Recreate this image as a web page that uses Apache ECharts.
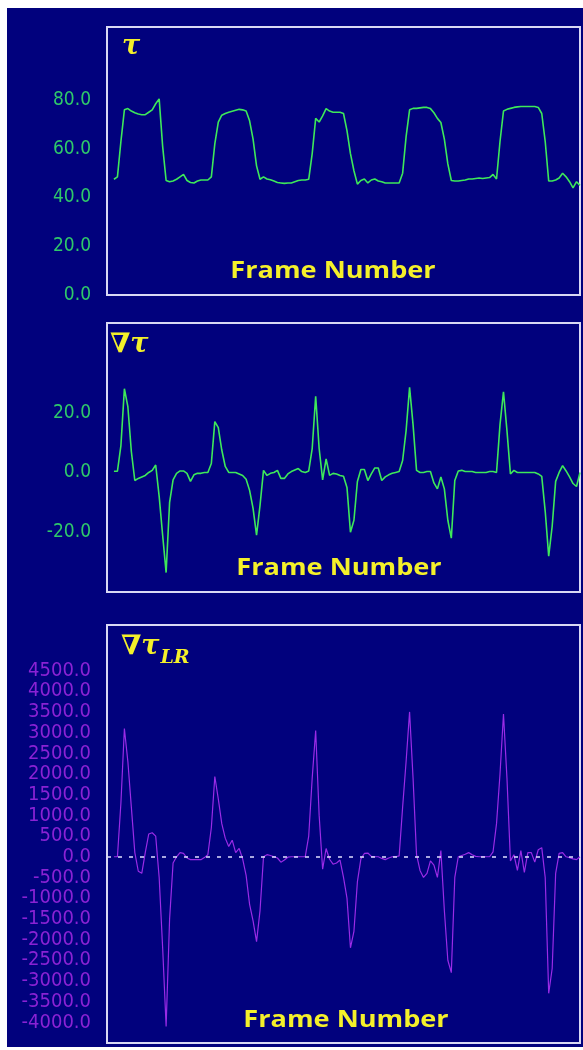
<!DOCTYPE html>
<html>
<head>
<meta charset="utf-8">
<script src="https://cdn.jsdelivr.net/npm/echarts@6/dist/echarts.min.js"></script>
<style>
html,body{margin:0;padding:0;background:#ffffff;width:583px;height:1050px;overflow:hidden;}
#bg{position:absolute;left:7px;top:8px;width:576px;height:1039px;background:#01017d;}
#chart{position:absolute;left:0;top:0;width:583px;height:1050px;}
</style>
</head>
<body>
<div id="bg"></div>
<div id="chart"></div>
<script>
// Frame numbers (x categories)
const frames = Array.from({length: 135}, (_, i) => i);

// tau per frame
const tau = [
  47.5,48.5,63,76,76.5,75.5,74.8,74.3,74,74,
  75,76,78.5,80.5,61,47,46.5,46.8,47.5,48.5,
  49.5,47,46.2,46,46.8,47.2,47.2,47.2,48.5,62,
  71,73.8,74.5,75,75.4,75.8,76.2,76,75.5,71.5,
  64,53,47.5,48.5,47.6,47.3,46.8,46.2,46,45.8,
  46,46,46.5,47,47.2,47.2,47.5,58,72.5,71,
  73.5,76.5,75.5,75,75,75,74.5,67.5,58,51,
  45.5,47,47.6,46,47.2,47.6,46.8,46.5,46,46,
  46,46,46,50,65,76,76.6,76.6,76.8,77,
  77,76.5,74.8,72.5,70.8,64,53.8,47,46.8,46.8,
  47,47.2,47.6,47.6,47.8,48,47.8,48,48.2,49.5,
  47.6,63,75.5,76.2,76.6,77,77.2,77.4,77.4,77.4,
  77.4,77.4,77,74.5,63,46.8,46.8,47.2,48,50,
  48.5,46.5,44,46.5,45
];

// gradient of tau per frame
const gradTau = [
  0.4,0.4,9,28,22,7,-2.7,-2,-1.5,-1,
  0,0.7,2.5,-8,-21,-33.5,-10,-2.5,-0.3,0.5,
  0.5,-0.3,-3,-0.8,-0.3,-0.3,0,0,3,17,
  15,7.5,2,0,0,0,-0.5,-1,-2.3,-6,
  -12,-21,-11,0.7,-1,-0.3,0,0.7,-2,-2,
  -0.5,0.3,0.8,1.3,0.3,0,0.5,8,25.5,8,
  -2.5,4.5,-1,-0.3,-0.5,-1,-1.3,-5,-20,-16,
  -3,1,1,-2.7,-0.5,1.5,1.5,-2.7,-1.5,-0.8,
  -0.3,0,0.3,4,14,28.5,16,0.7,0,0,
  0.3,0.3,-3.5,-5.5,-1.5,-5.5,-16,-22,-2.7,0.5,
  0.7,0.3,0.3,0.3,0,0,0,0,0.3,0.3,
  0,16,27,14,-0.5,0.7,0,0,0,0,
  0,0,-0.5,-1.3,-13,-28,-18,-3,0,2.3,
  0.5,-1.5,-3.7,-4.7,0
];

// LR gradient per frame
const gradTauLR = [
  0,0,1300,3100,2300,1200,100,-350,-400,100,
  550,580,500,-500,-2200,-4100,-1500,-150,0,100,
  80,-30,-70,-70,-70,-70,-20,50,700,1940,
  1400,800,450,250,400,100,200,-50,-450,-1150,
  -1550,-2050,-1300,0,50,30,0,-30,-130,-80,
  -10,0,0,0,0,0,500,1900,3050,1000,
  -300,200,-60,-180,-150,-80,-500,-1000,-2200,-1800,
  -600,-50,80,90,10,0,0,-40,-70,-30,
  0,0,20,1200,2300,3500,1900,50,-330,-500,
  -400,-100,-200,-500,150,-1300,-2500,-2800,-500,0,
  30,60,100,50,10,0,0,0,0,120,
  800,2000,3450,1900,-100,50,-330,150,-380,100,
  100,-130,170,220,-500,-3300,-2700,-400,80,100,
  0,-20,-50,-70,0
];

// tick label ranges shown on each y axis
const tauTicks = [0, 20, 40, 60, 80];
const gradTicks = [-20, 0, 20];
const lrTicks = [-4000, 4500]; // lowest and highest labelled value

const chart = echarts.init(document.getElementById('chart'), null, {renderer: 'canvas'});

const GREEN_LABEL = '#2fc86a';
const GREEN_LINE = '#3ee85a';
const PURPLE = '#9a2be6';
const PURPLE_LABEL = '#8a22d4';
const YELLOW = '#f4f02a';
const BORDER = '#d8d8f4';
const NARROW = '"DejaVu Sans Condensed", "Liberation Sans Narrow", "Roboto Condensed", "Liberation Sans", sans-serif';

function gridDef(top, height) {
  return {left: 107, width: 473, top: top, height: height, show: true,
    borderColor: BORDER, borderWidth: 2, backgroundColor: 'transparent', containLabel: false};
}
function xAxisDef(idx) {
  return {type: 'value', gridIndex: idx, min: -2, max: frames[frames.length - 1], show: false};
}
function ftext(x, y) {
  return {type: 'text', x: x, y: y, scaleX: 1.13, scaleY: 1, style: {text: 'Frame Number', fill: YELLOW,
      font: 'bold 24px "Open Sans"', align: 'center', verticalAlign: 'middle'}};
}

const option = {
  animation: false,
  backgroundColor: 'transparent',
  grid: [gridDef(27, 268), gridDef(323, 269), gridDef(625, 418)],
  xAxis: [xAxisDef(0), xAxisDef(1), xAxisDef(2)],
  yAxis: [
    {type: 'value', gridIndex: 0, min: 0, max: 110, interval: 20,
      axisLine: {show: false}, axisTick: {show: false}, splitLine: {show: false},
      axisLabel: {margin: 16, color: GREEN_LABEL, fontFamily: NARROW, fontSize: 19,
        formatter: v => tauTicks.includes(v) ? v.toFixed(1) : ''}},
    {type: 'value', gridIndex: 1, min: -40, max: 50, interval: 20,
      axisLine: {show: false}, axisTick: {show: false}, splitLine: {show: false},
      axisLabel: {margin: 16, color: GREEN_LABEL, fontFamily: NARROW, fontSize: 19,
        formatter: v => gradTicks.includes(v) ? v.toFixed(1) : ''}},
    {type: 'value', gridIndex: 2, min: -4500, max: 5600, interval: 500,
      axisLine: {show: false}, axisTick: {show: false}, splitLine: {show: false},
      axisLabel: {margin: 16, color: PURPLE_LABEL, fontFamily: NARROW, fontSize: 20,
        formatter: v => (v >= lrTicks[0] && v <= lrTicks[1]) ? v.toFixed(1) : ''}}
  ],
  series: [
    {type: 'line', xAxisIndex: 0, yAxisIndex: 0, symbol: 'none', silent: true,
      lineStyle: {color: GREEN_LINE, width: 1.6},
      data: tau.map((v, i) => [frames[i], v])},
    {type: 'line', xAxisIndex: 1, yAxisIndex: 1, symbol: 'none', silent: true,
      lineStyle: {color: GREEN_LINE, width: 1.6},
      data: gradTau.map((v, i) => [frames[i], v])},
    {type: 'line', xAxisIndex: 2, yAxisIndex: 2, symbol: 'none', silent: true,
      lineStyle: {color: PURPLE, width: 1.2},
      data: gradTauLR.map((v, i) => [frames[i], v]),
      markLine: {silent: true, symbol: 'none', label: {show: false},
        lineStyle: {color: '#e0e0ff', type: [4, 7], width: 1.5},
        data: [{yAxis: 0}]}}
  ],
  graphic: [
    {type: 'text', left: 122, top: 33, style: {text: 'τ', fill: YELLOW,
      font: 'italic bold 27px "DejaVu Serif"'}},
    {type: 'text', left: 110, top: 331, style: {text: '∇τ', fill: YELLOW,
      font: 'italic bold 27px "DejaVu Serif"'}},
    {type: 'text', left: 121, top: 633, style: {
      text: '{a|∇τ}{b|LR}', rich: {
        a: {fill: YELLOW, font: 'italic bold 27px "DejaVu Serif"', verticalAlign: 'top'},
        b: {fill: YELLOW, font: 'italic bold 19px "DejaVu Serif"', padding: [16, 0, 0, 1]}
      }}},
    ftext(333, 271),
    ftext(339, 568),
    ftext(346, 1020)
  ]
};
chart.setOption(option);
</script>
</body>
</html>
